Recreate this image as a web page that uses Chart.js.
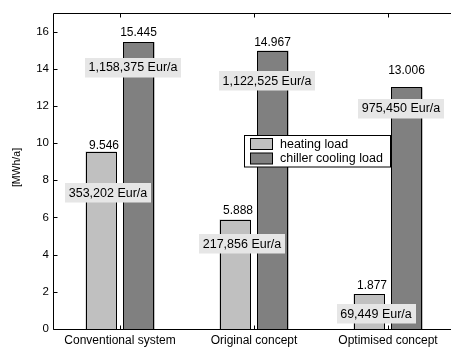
<!DOCTYPE html>
<html>
<head>
<meta charset="utf-8">
<script src="https://cdn.jsdelivr.net/npm/chart.js@4/dist/chart.umd.min.js"></script>
<style>
  html, body { margin: 0; padding: 0; background: #fff; overflow: hidden; }
  #wrap { position: relative; width: 451px; height: 347px; overflow: hidden; }
  canvas { position: absolute; left: 0; top: 0; }
</style>
</head>
<body>
<div id="wrap"><canvas id="c" width="457" height="347"></canvas></div>
<script>
// Annual loads per concept [MWh/a] and the matching annual costs [Eur/a]
const categories = ['Conventional system', 'Original concept', 'Optimised concept'];
const heatingLoad = [9.546, 5.888, 1.877];
const coolingLoad = [15.445, 14.967, 13.006];
const heatingCost = [353202, 217856, 69449];
const coolingCost = [1158375, 1122525, 975450];
const yTicks = [0, 2, 4, 6, 8, 10, 12, 14, 16];
const seriesNames = ['heating load', 'chiller cooling load'];

// Layout of the annotations (not data)
const heatColor = '#c0c0c0';
const coolColor = '#808080';
const tagFill = '#e6e6e6';
const valueLift = [[2.7, 5.4, 5.5], [6, 5, 13.6]];     // px between bar top and value baseline
const tagLevel = [[7.34, 4.59, 0.82], [14.07, 13.36, 11.87]]; // y (axis units) of cost tag centre
const tagShift = [7, -6];                                // px horizontal shift of cost tags
const FONT = '"Liberation Sans", Arial, Helvetica, sans-serif';

const fmt = new Intl.NumberFormat('en-US');

const annotate = {
  id: 'annotate',
  afterDatasetsDraw(chart) {
    const ctx = chart.ctx;
    const area = chart.chartArea;
    const ys = chart.scales.y;
    const xs = chart.scales.x;
    const values = [heatingLoad, coolingLoad];
    const costs = [heatingCost, coolingCost];

    ctx.save();
    ctx.strokeStyle = '#000';
    ctx.lineWidth = 1;

    // crisp black outlines round every bar
    for (let d = 0; d < 2; d++) {
      chart.getDatasetMeta(d).data.forEach(bar => {
        const l = Math.round(bar.x - bar.width / 2) + 0.5;
        const r = Math.round(bar.x + bar.width / 2) - 0.5;
        const t = Math.round(bar.y) + 0.5;
        const b = Math.round(bar.base) + 0.5;
        ctx.strokeRect(l, t, r - l, b - t);
      });
    }

    // value labels above each bar
    ctx.fillStyle = '#000';
    ctx.font = '12px ' + FONT;
    ctx.textAlign = 'center';
    ctx.textBaseline = 'alphabetic';
    for (let d = 0; d < 2; d++) {
      chart.getDatasetMeta(d).data.forEach((bar, i) => {
        const dx = d === 0 ? 3 : -0.5;
        ctx.fillText(values[d][i].toFixed(3), bar.x + dx, bar.y - valueLift[d][i]);
      });
    }

    // cost tags on grey boxes
    ctx.font = '12.5px ' + FONT;
    ctx.textBaseline = 'middle';
    for (let d = 0; d < 2; d++) {
      chart.getDatasetMeta(d).data.forEach((bar, i) => {
        const txt = fmt.format(costs[d][i]) + ' Eur/a';
        const w = ctx.measureText(txt).width + 7;
        const h = 19.5;
        const cx = bar.x + tagShift[d];
        const cy = ys.getPixelForValue(tagLevel[d][i]);
        ctx.fillStyle = tagFill;
        ctx.fillRect(Math.round(cx - w / 2), Math.round(cy - h / 2), Math.round(w), h);
        ctx.fillStyle = '#000';
        ctx.fillText(txt, cx, cy + 0.5);
      });
    }

    // axes frame with inward ticks
    const L = Math.round(area.left) + 0.5, R = Math.round(area.right) + 0.5;
    const T = Math.round(area.top) + 0.5, B = Math.round(area.bottom) + 0.5;
    ctx.beginPath();
    ctx.moveTo(L, T); ctx.lineTo(R, T); ctx.lineTo(R, B); ctx.lineTo(L, B); ctx.closePath();
    yTicks.forEach(v => {
      const py = Math.round(ys.getPixelForValue(v)) + 0.5;
      ctx.moveTo(L, py); ctx.lineTo(L + 4, py);
      ctx.moveTo(R, py); ctx.lineTo(R - 4, py);
    });
    categories.forEach((c, i) => {
      const px = Math.round(xs.getPixelForValue(i)) + 0.5;
      ctx.moveTo(px, B); ctx.lineTo(px, B - 4);
      ctx.moveTo(px, T); ctx.lineTo(px, T + 4);
    });
    ctx.stroke();

    // axis title
    ctx.save();
    ctx.translate(17, 167.5);
    ctx.rotate(-Math.PI / 2);
    ctx.font = '10.5px ' + FONT;
    ctx.textAlign = 'center';
    ctx.textBaseline = 'middle';
    ctx.fillStyle = '#000';
    ctx.fillText('[MWh/a]', 0, 0);
    ctx.restore();

    // legend box
    const lx = 244.5, ly = 135.5, lw = 146, lh = 31.5;
    ctx.fillStyle = '#fff';
    ctx.fillRect(lx, ly, lw, lh);
    ctx.strokeRect(lx, ly, lw, lh);
    const colors = [heatColor, coolColor];
    ctx.font = '12.5px ' + FONT;
    ctx.textAlign = 'left';
    ctx.textBaseline = 'middle';
    seriesNames.forEach((name, k) => {
      const sy = 138.5 + k * 14.5;
      ctx.fillStyle = colors[k];
      ctx.fillRect(250.5, sy, 22, 11);
      ctx.strokeRect(250.5, sy, 22, 11);
      ctx.fillStyle = '#000';
      ctx.fillText(name, 280, sy + 6);
    });
    ctx.restore();
  }
};

new Chart(document.getElementById('c'), {
  type: 'bar',
  data: {
    labels: categories,
    datasets: [
      { label: seriesNames[0], data: heatingLoad, backgroundColor: heatColor, borderWidth: 0 },
      { label: seriesNames[1], data: coolingLoad, backgroundColor: coolColor, borderWidth: 0 }
    ]
  },
  options: {
    responsive: false,
    animation: false,
    devicePixelRatio: 1,
    categoryPercentage: 0.567,
    barPercentage: 0.816,
    layout: { padding: { left: 0, top: 13, right: 2, bottom: 0 } },
    plugins: { legend: { display: false }, tooltip: { enabled: false } },
    scales: {
      x: {
        grid: { display: false, drawTicks: false },
        border: { display: false },
        ticks: { color: '#000', font: { family: FONT, size: 12 }, padding: 4, maxRotation: 0 },
        afterFit(s) { s.height = 18; }
      },
      y: {
        min: 0, max: 17,
        grid: { display: false, drawTicks: false },
        border: { display: false },
        ticks: { color: '#000', font: { family: FONT, size: 11.5 }, padding: 4 },
        afterBuildTicks(s) { s.ticks = yTicks.map(v => ({ value: v })); },
        afterFit(s) { s.width = 53; }
      }
    }
  },
  plugins: [annotate]
});
</script>
</body>
</html>
